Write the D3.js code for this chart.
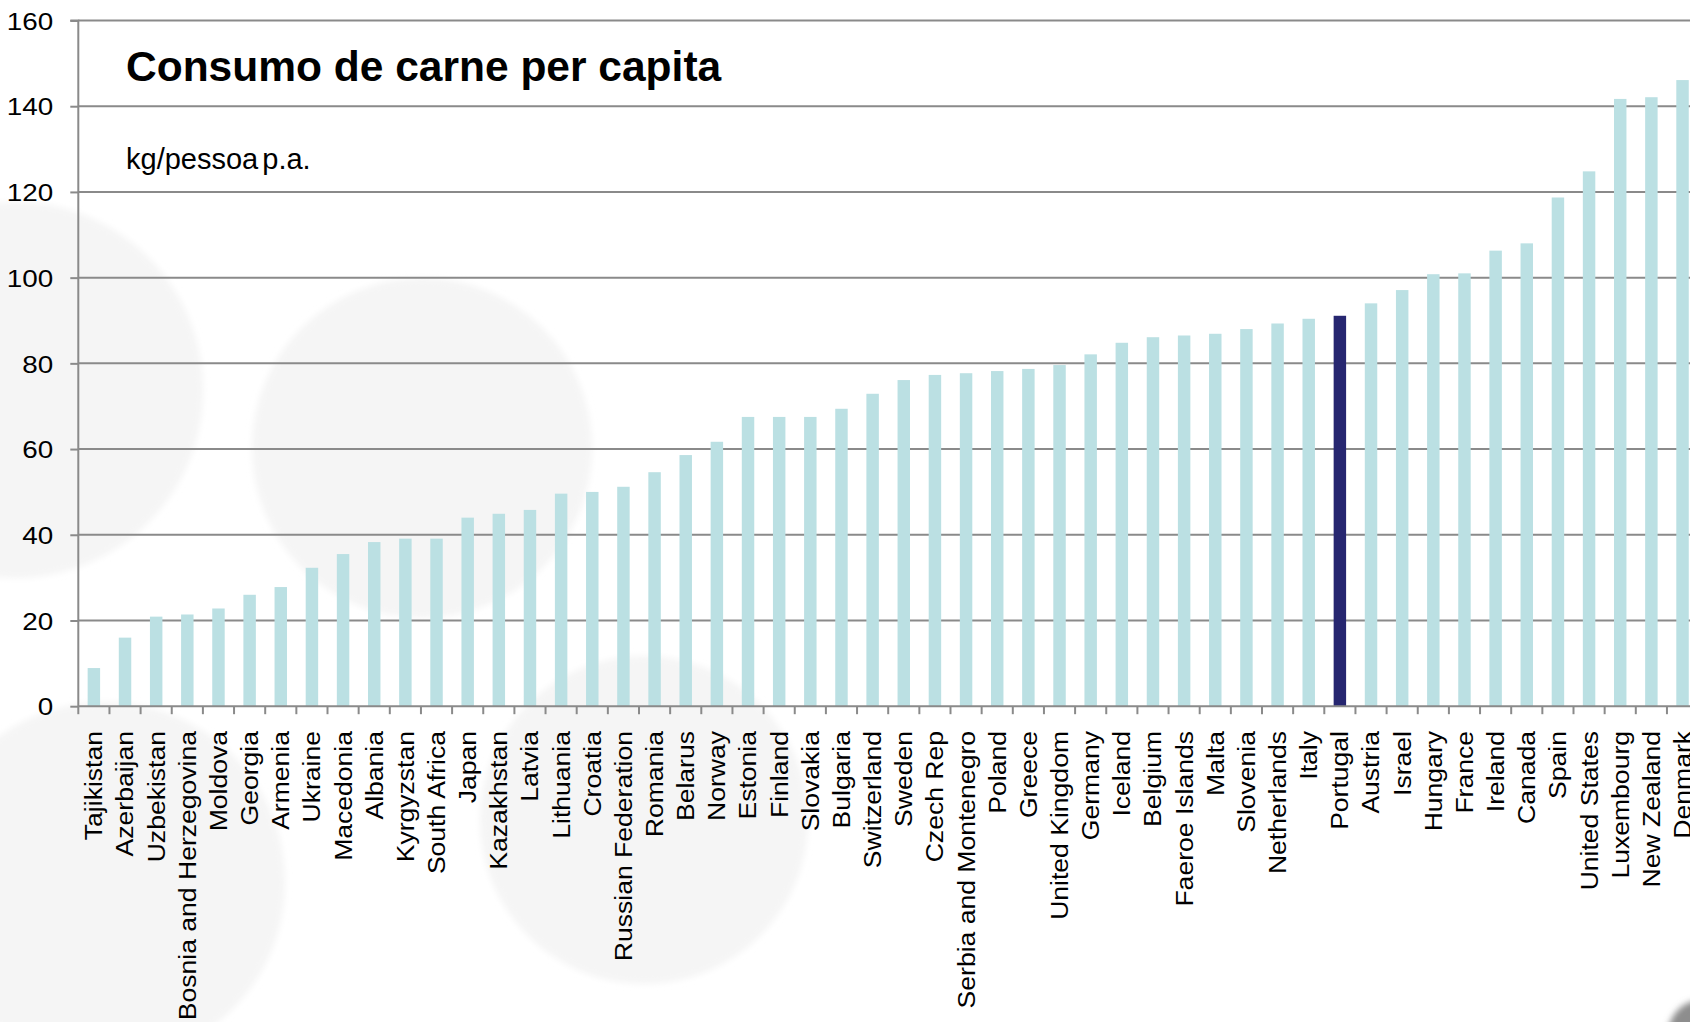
<!DOCTYPE html>
<html>
<head>
<meta charset="utf-8">
<script src="https://cdn.jsdelivr.net/npm/d3@7"></script>
<style>
  html, body { margin: 0; padding: 0; background: #ffffff; }
  svg { display: block; font-family: "Liberation Sans", Arial, sans-serif; }
</style>
</head>
<body>
<svg id="chart" width="1690" height="1022"></svg>
<script>
// Meat consumption per capita, kg per person per year, sorted ascending
const countries = [
  "Tajikistan", "Azerbaijan", "Uzbekistan", "Bosnia and Herzegovina", "Moldova",
  "Georgia", "Armenia", "Ukraine", "Macedonia", "Albania", "Kyrgyzstan",
  "South Africa", "Japan", "Kazakhstan", "Latvia", "Lithuania", "Croatia",
  "Russian Federation", "Romania", "Belarus", "Norway", "Estonia", "Finland",
  "Slovakia", "Bulgaria", "Switzerland", "Sweden", "Czech Rep",
  "Serbia and Montenegro", "Poland", "Greece", "United Kingdom", "Germany",
  "Iceland", "Belgium", "Faeroe Islands", "Malta", "Slovenia", "Netherlands",
  "Italy", "Portugal", "Austria", "Israel", "Hungary", "France", "Ireland",
  "Canada", "Spain", "United States", "Luxembourg", "New Zealand", "Denmark"
];
const consumption = [
  8.9, 16.0, 20.9, 21.4, 22.8,
  26.0, 27.8, 32.3, 35.5, 38.3, 39.1,
  39.1, 44.0, 44.9, 45.8, 49.6, 50.0,
  51.2, 54.6, 58.6, 61.7, 67.5, 67.5,
  67.5, 69.4, 72.9, 76.1, 77.3,
  77.7, 78.2, 78.7, 79.6, 82.1,
  84.8, 86.1, 86.5, 86.9, 88.0, 89.3,
  90.4, 91.1, 94.0, 97.1, 100.8, 101.0, 106.3,
  108.0, 118.7, 124.8, 141.7, 142.1, 146.1
];
const highlighted = ["Portugal"];
const yTicks = [0, 20, 40, 60, 80, 100, 120, 140, 160];

const titleText = "Consumo de carne per capita";
const unitText = "kg/pessoa p.a.";

const data = countries.map((c, i) => ({ country: c, value: consumption[i] }));

const W = 1690, H = 1022;
const svg = d3.select("#chart");

// soft decorative discs in the background
const defs = svg.append("defs");
defs.append("filter").attr("id", "soft")
  .append("feGaussianBlur").attr("stdDeviation", 3);
const deco = svg.append("g");
const discs = [
  { cx: 15, cy: 390, r: 188 },
  { cx: 422, cy: 448, r: 170 },
  { cx: 644, cy: 820, r: 164 },
  { cx: 105, cy: 882, r: 180 }
];
deco.selectAll("circle").data(discs).join("circle")
  .attr("cx", d => d.cx).attr("cy", d => d.cy).attr("r", d => d.r)
  .attr("fill", "#f5f5f5").attr("filter", "url(#soft)");
deco.append("circle").attr("cx", 1702).attr("cy", 1034).attr("r", 34)
  .attr("fill", "#8d8d8d").attr("filter", "url(#soft)");

// scales
const plotLeft = 78.3, plotTop = 20.5, plotBottom = 706.2;
const step = 31.15;
const x = d3.scaleBand()
  .domain(countries)
  .range([plotLeft, plotLeft + step * countries.length])
  .paddingInner(0.6)
  .paddingOuter(0.3);
const y = d3.scaleLinear().domain([0, 160]).range([plotBottom, plotTop]);

const gridColor = "#8a8a8a";

// horizontal gridlines
svg.append("g").selectAll("line").data(yTicks.filter(v => v > 0)).join("line")
  .attr("x1", plotLeft).attr("x2", W)
  .attr("y1", d => y(d)).attr("y2", d => y(d))
  .attr("stroke", gridColor).attr("stroke-width", 2);

// bars
svg.append("g").selectAll("rect").data(data).join("rect")
  .attr("x", d => x(d.country))
  .attr("width", x.bandwidth())
  .attr("y", d => y(d.value))
  .attr("height", d => y(0) - y(d.value))
  .attr("fill", d => highlighted.includes(d.country) ? "#262670" : "#bbe0e3");

// y axis
const yAxis = svg.append("g")
  .attr("transform", `translate(${plotLeft},0)`)
  .call(d3.axisLeft(y).tickValues(yTicks).tickSize(8).tickFormat(d3.format("d")));
yAxis.select(".domain").attr("stroke", gridColor).attr("stroke-width", 2)
  .attr("d", `M-8,${plotTop}H0V${plotBottom}`);
yAxis.selectAll(".tick line").attr("stroke", gridColor).attr("stroke-width", 2);
// tick labels are set slightly wide
yAxis.selectAll(".tick text")
  .attr("x", null)
  .attr("transform", "translate(-25,0.5) scale(1.16,1)")
  .attr("dy", "0.34em")
  .attr("fill", "#000").attr("font-size", 24)
  .attr("font-family", "'Liberation Sans', Arial, sans-serif");

// x axis: baseline, category boundary ticks and rotated labels
const xg = svg.append("g");
xg.append("line")
  .attr("x1", plotLeft).attr("x2", W)
  .attr("y1", y(0)).attr("y2", y(0))
  .attr("stroke", gridColor).attr("stroke-width", 2);
xg.selectAll("line.bound").data(countries).join("line")
  .attr("class", "bound")
  .attr("x1", d => x(d) - x.step() * x.paddingOuter())
  .attr("x2", d => x(d) - x.step() * x.paddingOuter())
  .attr("y1", y(0)).attr("y2", y(0) + 8)
  .attr("stroke", gridColor).attr("stroke-width", 2);
xg.selectAll("text").data(countries).join("text")
  .attr("transform", d => `translate(${x(d) + x.bandwidth() / 2},731) rotate(-90) scale(1.13,1)`)
  .attr("text-anchor", "end")
  .attr("dy", "0.36em")
  .attr("font-size", 23.5)
  .attr("fill", "#000")
  .text(d => d);

// title and unit
svg.append("text")
  .attr("x", 126).attr("y", 81)
  .attr("font-size", 42.5).attr("font-weight", "bold")
  .attr("fill", "#000")
  .text(titleText);
svg.append("text")
  .attr("x", 126).attr("y", 169)
  .attr("font-size", 29)
  .attr("word-spacing", -4)
  .attr("fill", "#000")
  .text(unitText);
</script>
</body>
</html>
